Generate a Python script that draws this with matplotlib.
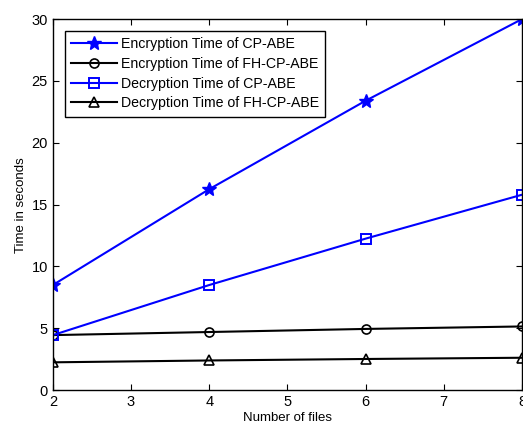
import matplotlib.pyplot as plt

# number of files and timings (seconds)
files = [2, 4, 6, 8]
enc_cpabe = [8.5, 16.25, 23.4, 30.0]
enc_fhcpabe = [4.45, 4.7, 4.95, 5.15]
dec_cpabe = [4.45, 8.5, 12.25, 15.8]
dec_fhcpabe = [2.25, 2.4, 2.52, 2.62]

x_ticks = [2, 3, 4, 5, 6, 7, 8]
y_ticks = [0, 5, 10, 15, 20, 25, 30]

plt.rcParams['font.family'] = ['Liberation Sans', 'DejaVu Sans']

fig = plt.figure(figsize=(5.23, 4.25), dpi=100)
ax = fig.add_axes([0.101, 0.082, 0.897, 0.873])

ax.plot(files, enc_cpabe, color='#0000ff', lw=1.5, marker='*', ms=10,
        label='Encryption Time of CP-ABE')
ax.plot(files, enc_fhcpabe, color='black', lw=1.5, marker='o', ms=6.5,
        mfc='none', mew=1.2, label='Encryption Time of FH-CP-ABE')
ax.plot(files, dec_cpabe, color='#0000ff', lw=1.5, marker='s', ms=6.5,
        mfc='none', mew=1.4, label='Decryption Time of CP-ABE')
ax.plot(files, dec_fhcpabe, color='black', lw=1.5, marker='^', ms=7.5,
        mfc='none', mew=1.2, label='Decryption Time of FH-CP-ABE')

ax.set_xlim(2, 8)
ax.set_ylim(0, 30)
ax.set_xticks(x_ticks)
ax.set_yticks(y_ticks)
ax.tick_params(direction='in', top=True, right=True, labelsize=10.5, length=4)
ax.set_xlabel('Number of files', fontsize=9.5, labelpad=2)
ax.set_ylabel('Time in seconds', fontsize=9.5, labelpad=3)
for s in ax.spines.values():
    s.set_linewidth(1.0)

leg = ax.legend(loc='upper left', fontsize=10.2, handlelength=3.2, fancybox=False,
                edgecolor='black', framealpha=1, borderpad=0.45, labelspacing=0.4,
                handletextpad=0.3, borderaxespad=0, bbox_to_anchor=(0.026, 0.968))
leg.get_frame().set_linewidth(1.0)

fig.savefig('out.png', dpi=100)
